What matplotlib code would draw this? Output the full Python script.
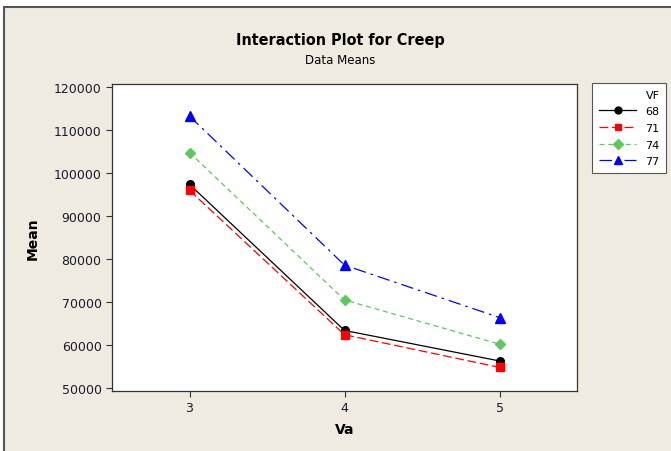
import matplotlib.pyplot as plt
from matplotlib.patches import Rectangle

# data
va = [3, 4, 5]
vf_levels = ['68', '71', '74', '77']
mean_68 = [97400, 63400, 56300]
mean_71 = [96000, 62400, 54800]
mean_74 = [104800, 70500, 60200]
mean_77 = [113300, 78600, 66400]
yticks = [50000, 60000, 70000, 80000, 90000, 100000, 110000, 120000]

series = [mean_68, mean_71, mean_74, mean_77]
styles = [
    dict(color='black', ls='-', marker='o', ms=5.5),
    dict(color='red', ls=(0, (7, 3)), marker='s', ms=5.5),
    dict(color='#5ec85e', ls=(0, (4, 3)), marker='D', ms=5.5),
    dict(color='blue', ls=(0, (10, 4, 2, 4)), marker='^', ms=6.5),
]

fig = plt.figure(figsize=(6.71, 4.52), dpi=100)
fig.patch.set_facecolor('white')
panel = Rectangle((4 / 671, -0.01), 1.0, 1 - 8 / 452 + 0.01, transform=fig.transFigure,
                  facecolor='#efebe0', edgecolor='#555555', lw=1.5, zorder=-5)
fig.patches.append(panel)

ax = fig.add_axes([112 / 671, 1 - 391.5 / 452, 465 / 671, 306.5 / 452])
ax.set_facecolor('white')

for vals, lab, st in zip(series, vf_levels, styles):
    ax.plot(va, vals, label=lab, lw=0.9, color=st['color'], ls=st['ls'],
            marker=st['marker'], ms=st['ms'], mec=st['color'], mfc=st['color'])

ax.set_xlim(2.5, 5.5)
ax.set_ylim(49420, 120770)
ax.set_xticks(va)
ax.set_yticks(yticks)
ax.tick_params(direction='out', length=4, width=0.8, labelsize=9, colors='#333333',
               labelcolor='#1a1a2e', top=False, right=False)
for sp in ax.spines.values():
    sp.set_color('#333333')
    sp.set_linewidth(0.9)

ax.set_xlabel('Va', fontsize=10, fontweight='bold', labelpad=6)
ax.set_ylabel('Mean', fontsize=10, fontweight='bold', labelpad=10)

fig.text(340 / 671, 1 - 41 / 452, 'Interaction Plot for Creep', ha='center', va='center',
         fontsize=11.5, fontweight='bold', fontstretch='condensed')
fig.text(340 / 671, 1 - 60 / 452, 'Data Means', ha='center', va='center', fontsize=8.5)

leg = ax.legend(title='VF', loc='upper left', bbox_to_anchor=(592 / 671, 1 - 84 / 452),
                bbox_transform=fig.transFigure, borderaxespad=0, fontsize=8,
                title_fontsize=8, frameon=True, fancybox=False, framealpha=1,
                edgecolor='#555555', borderpad=0.6, handlelength=3.4,
                labelspacing=0.6, markerscale=0.9, alignment='right')
leg.get_frame().set_linewidth(0.8)

fig.savefig('out.png', dpi=100)
